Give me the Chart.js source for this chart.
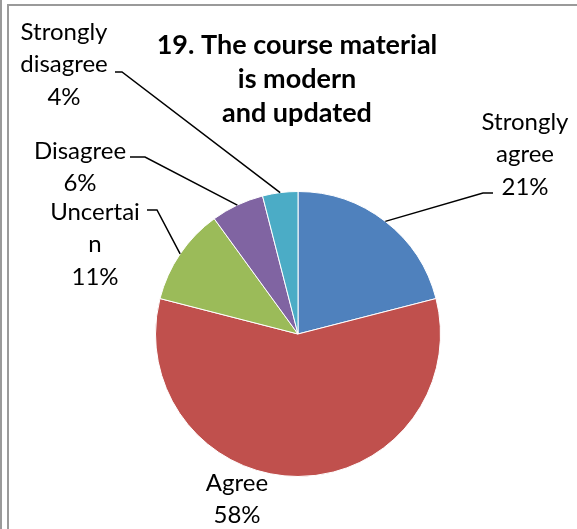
<!DOCTYPE html>
<html><head><meta charset="utf-8">
<script src="https://cdn.jsdelivr.net/npm/chart.js@4.4.1/dist/chart.umd.min.js"></script>
<style>
html,body{margin:0;padding:0;background:#fff;}
#wrap{position:relative;width:577px;height:529px;overflow:hidden;}
.bl{position:absolute;background:#9a9a9a;}
canvas{position:absolute;left:0;top:0;}
</style></head><body>
<div id="wrap">
<canvas id="c" width="577" height="529"></canvas>
<div class="bl" style="left:0;top:0;width:2px;height:529px;"></div>
<div class="bl" style="left:7px;top:4px;width:2px;height:525px;"></div>
<div class="bl" style="left:7px;top:4px;width:570px;height:2px;"></div>
</div>
<script>
const categories = ["Strongly agree","Agree","Uncertain","Disagree","Strongly disagree"];
const values = [21, 58, 11, 6, 4];
const labelLines = [["Strongly","agree","21%"],["Agree","58%"],["Uncertai","n","11%"],["Disagree","6%"],["Strongly","disagree","4%"]];
const titleLines = ["19. The course material","is modern","and updated"];
const colors = ["#4F81BD","#C0504D","#9BBB59","#8064A2","#4BACC6"];

const labelLayout = [
  {x:525, y:122, elbow:[483,193], end:[493,193], hasLine:true},
  {x:237, y:483, hasLine:false},
  {x:95,  y:212, elbow:[157,210], end:[147,210], hasLine:true},
  {x:80,  y:151, elbow:[145,157], end:[130,157], hasLine:true},
  {x:64,  y:32,  elbow:[122,72],  end:[115,72],  hasLine:true}
];
const FONT = "Lato, 'Noto Sans', sans-serif";
const labelPlugin = {
  id:'labels',
  afterDraw(chart){
    const ctx = chart.ctx;
    const meta = chart.getDatasetMeta(0);
    ctx.save();
    meta.data.forEach((arc,i)=>{
      const L = labelLayout[i];
      if(L.hasLine){
        const mid = (arc.startAngle+arc.endAngle)/2;
        const px = arc.x + Math.cos(mid)*arc.outerRadius;
        const py = arc.y + Math.sin(mid)*arc.outerRadius;
        ctx.beginPath();
        ctx.moveTo(px,py);
        ctx.lineTo(L.elbow[0],L.elbow[1]);
        ctx.lineTo(L.end[0],L.end[1]);
        ctx.strokeStyle='#000';ctx.lineWidth=1.5;ctx.stroke();
      }
      ctx.fillStyle='#000';
      ctx.font = "24px "+FONT;
      ctx.textAlign='center';ctx.textBaseline='middle';
      labelLines[i].forEach((t,k)=>ctx.fillText(t,L.x,L.y+k*32.5));
    });
    ctx.font = "bold 27px "+FONT;
    titleLines.forEach((t,k)=>ctx.fillText(t,297,45+k*34));
    ctx.restore();
  }
};
new Chart(document.getElementById('c'),{
  type:'pie',
  data:{labels:categories,datasets:[{data:values,backgroundColor:colors,borderColor:'#ffffff',borderWidth:1}]},
  options:{
    responsive:false,animation:false,
    layout:{padding:{left:155,right:136,top:191,bottom:52}},
    plugins:{legend:{display:false},tooltip:{enabled:false},title:{display:false}}
  },
  plugins:[labelPlugin]
});
</script>
</body></html>
